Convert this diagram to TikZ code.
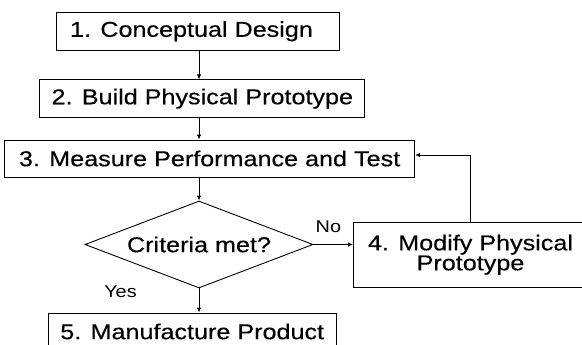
\documentclass[tikz,border=0pt]{standalone}
\usepackage{fontspec}
\setmainfont{Liberation Sans}[FakeStretch=1.17,FakeBold=0.35]
\newfontfamily\lblfont{Liberation Sans}[FakeStretch=1.17]
\usetikzlibrary{positioning}
\usetikzlibrary{shapes.geometric}
\usetikzlibrary{arrows.meta}

\tikzset{
	stepbox/.style = {draw, rectangle, line width=0.9pt, inner sep=0pt, font=\fontsize{21.5}{20}\selectfont},
	arr/.style = {-{Latex[length=5pt,width=4.5pt]}, line width=0.9pt},
	lbl/.style = {inner sep=0pt, font=\lblfont\fontsize{17}{19}\selectfont}
}

\begin{document}
\begin{tikzpicture}[x=1pt,y=-1pt]
		\useasboundingbox (0,0) rectangle (582,345);
		\node[stepbox,minimum width=283pt,minimum height=37.5pt] at (198,31.25) (s1) {1. Conceptual Design\rule{13pt}{0pt}};
		\node[stepbox,minimum width=325pt,minimum height=37.5pt] at (202.3,98.7) (s2) {2. Build Physical Prototype};
		\node[stepbox,minimum width=410pt,minimum height=37pt] at (209.6,158.5) (s3) {3. Measure Performance and Test};
		\node[stepbox,diamond,aspect=2.62,minimum width=228pt,minimum height=87pt] at (199,244.5) (crit) {Criteria met?};
		\node[stepbox,align=center,minimum width=234pt,minimum height=64.5pt] at (470.5,254.75) (s4) {4. Modify Physical\\Prototype};
		\node[stepbox,minimum width=288pt,minimum height=37pt] at (192.2,331.5) (s5) {5. Manufacture Product};
		\node[lbl,above right=12pt and 2pt of crit.east] (no) {No};
		\node[lbl] at (120.5,291.5) (yes) {Yes};
		% flow down the middle
		\draw[arr] (s1.south -| crit) -- (s2.north -| crit);
		\draw[arr] (s2.south -| crit) -- (s3.north -| crit);
		\draw[arr] (s3.south -| crit) -- (crit.north);
		\draw[arr] (crit.south) -- (s5.north -| crit);
		% loop back
		\draw[arr] (crit.east) -- (crit.east -| s4.west);
		\draw[arr] (s4.north) |- ([yshift=3.5pt]s3.east);
	\end{tikzpicture}
\end{document}
